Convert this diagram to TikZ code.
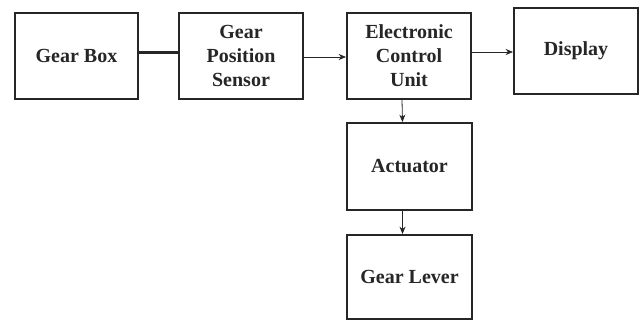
\documentclass[tikz,border=0pt]{standalone}
\usepackage{fontspec}
\setmainfont{Liberation Serif}
\usetikzlibrary{arrows.meta}
\begin{document}
\begin{tikzpicture}[x=1pt,y=1pt,
  blk/.style={draw=black!85,line width=1.8pt,fill=white,align=center,
    font=\fontsize{20}{24}\selectfont\bfseries,text=black!85,inner sep=0pt},
  arr/.style={draw=black!85,line width=0.8pt,-{Stealth[length=7.5pt,width=6pt]}}]
\useasboundingbox (0,0) rectangle (642,-321);
\node[blk,minimum width=123,minimum height=86] (gb) at (76.5,-56) {Gear Box};
\node[blk,minimum width=124,minimum height=86] (gps) at (241,-56) {Gear\\Position\\Sensor};
\node[blk,minimum width=124,minimum height=86] (ecu) at (409,-56) {Electronic\\Control\\Unit};
\node[blk,minimum width=124,minimum height=86] (disp) at (576,-51) {Display};
\node[blk,minimum width=125,minimum height=87] (act) at (409.5,-166.5) {Actuator};
\node[blk,minimum width=125,minimum height=84] (gl) at (409.5,-277) {Gear Lever};
\draw[draw=black!85,line width=3pt] ([yshift=3pt]gb.east) -- ([yshift=3pt]gb.east -| gps.west);
\draw[arr] ([yshift=-1pt]gps.east) -- ([yshift=-1pt]gps.east -| ecu.west);
\draw[arr] ([yshift=4pt]ecu.east) -- ([yshift=4pt]ecu.east -| disp.west);
\draw[arr] ([xshift=-7pt]ecu.south) -- ([xshift=-7pt]act.north);
\draw[arr] ([xshift=-7pt]act.south) -- ([xshift=-7pt]gl.north);
\end{tikzpicture}
\end{document}
